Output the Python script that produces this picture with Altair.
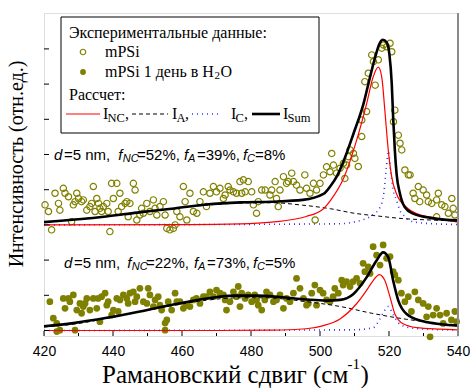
import altair as alt
import pandas as pd

# ---- measured spectra -------------------------------------------------------
# mPSi (open circles): Raman shift, intensity
TOP_X = [420.3, 421.3, 422.2, 423.2, 424.2, 424.6, 425.6, 426.1, 427.1, 428.0, 428.5, 429.0, 429.5, 430.0,
         430.9, 431.4, 432.4, 433.3, 433.8, 434.3, 434.8, 435.3, 435.8, 436.2, 436.7, 437.2, 438.2, 438.6,
         439.1, 439.6, 440.1, 441.1, 441.5, 442.0, 442.5, 443.5, 444.0, 444.4, 444.9, 445.9, 446.4, 446.9,
         447.8, 448.3, 448.8, 449.8, 450.7, 451.7, 452.2, 452.7, 453.6, 454.6, 455.1, 455.6, 456.5, 457.5,
         458.0, 458.5, 459.4, 460.4, 460.9, 461.4, 462.3, 463.3, 464.3, 465.2, 466.2, 467.1, 468.1, 469.1,
         470.0, 471.0, 472.0, 472.5, 473.4, 473.9, 474.9, 475.8, 476.8, 477.3, 477.8, 478.3, 479.2, 480.2,
         480.7, 481.6, 482.1, 483.1, 484.1, 485.5, 486.0, 487.0, 487.4, 487.9, 488.4, 489.4, 490.3, 490.8,
         491.8, 492.3, 493.2, 494.2, 495.6, 496.1, 497.1, 498.1, 498.6, 499.0, 500.0, 501.0, 501.9, 502.9,
         503.4, 503.9, 504.8, 505.8, 506.8, 507.2, 507.7, 508.2, 508.7, 509.7, 510.1, 511.1, 512.1, 512.1,
         513.5, 513.0, 514.0, 515.0, 515.5, 516.0, 516.9, 517.9, 518.4, 519.3, 520.3, 520.8, 521.7, 521.3,
         522.7, 523.2, 523.7, 524.6, 525.6, 526.1, 528.5, 529.9, 527.0, 527.5, 528.9, 530.9, 531.4, 532.4,
         533.8, 534.3, 535.3, 536.2, 537.2, 538.2, 538.6, 539.1, 533.8]
TOP_Y = [35.7, 33.8, 28.6, 39.0, 36.1, 34.2, 40.4, 39.0, 38.0, 30.9, 35.7, 36.6, 39.0, 37.5,
         36.6, 37.1, 34.2, 35.2, 36.1, 40.9, 33.8, 37.5, 36.1, 34.7, 33.8, 35.2, 36.1, 33.8,
         28.1, 41.8, 37.5, 41.8, 33.8, 39.0, 35.2, 36.1, 36.6, 32.3, 36.1, 41.8, 39.9, 31.4,
         32.8, 34.7, 33.3, 36.1, 33.8, 37.1, 34.7, 32.8, 35.2, 36.6, 32.8, 29.0, 28.6, 29.0,
         30.0, 33.8, 32.3, 40.9, 36.6, 31.4, 39.0, 33.8, 33.3, 36.6, 39.4, 35.2, 39.0, 40.9,
         39.4, 40.4, 37.5, 38.5, 40.9, 39.9, 39.4, 39.0, 42.3, 39.0, 42.8, 39.4, 42.3, 39.4,
         35.7, 33.3, 36.6, 39.9, 39.9, 38.5, 39.9, 42.3, 37.5, 35.2, 39.9, 43.7, 41.8, 42.3,
         44.7, 42.3, 41.3, 39.9, 44.2, 40.4, 39.0, 41.8, 31.4, 39.9, 41.8, 44.2, 46.5, 45.1,
         50.3, 47.0, 44.7, 46.1, 47.5, 43.2, 47.0, 49.4, 51.3, 50.3, 48.9, 46.6, 55.1, 59.8,
         62.2, 70.7, 73.1, 78.3, 76.4, 69.7, 76.9, 80.2, 81.1, 80.6, 81.6, 79.2, 62.6, 59.3,
         55.5, 53.2, 51.3, 45.6, 44.2, 44.2, 40.9, 39.9, 39.0, 37.5, 36.6, 38.5, 36.6, 36.1,
         37.1, 39.0, 35.7, 35.2, 33.3, 37.5, 34.7, 32.8, 32.3]

# mPSi after 1 day in H2O (filled circles)
BOT_X = [421.7, 422.7, 423.7, 424.6, 425.6, 426.1, 427.1, 427.5, 428.5, 429.0, 429.5, 430.4, 430.9, 431.4,
         431.9, 432.4, 433.3, 434.3, 435.3, 435.7, 436.7, 437.7, 438.2, 438.6, 439.6, 440.1, 441.1, 441.5,
         442.0, 443.0, 444.0, 444.4, 444.9, 445.9, 446.4, 446.9, 447.8, 448.8, 449.8, 450.2, 450.7, 451.7,
         452.2, 453.1, 453.6, 454.1, 455.1, 455.6, 456.0, 457.0, 458.0, 458.5, 459.4, 460.4, 461.3, 462.3,
         463.3, 464.2, 465.2, 466.2, 467.1, 468.1, 469.1, 470.0, 471.0, 472.0, 472.5, 472.9, 473.9, 474.9,
         475.8, 476.3, 476.8, 477.3, 478.3, 479.2, 480.2, 481.1, 481.6, 482.1, 483.1, 484.0, 484.5, 485.5,
         486.5, 487.4, 488.4, 489.4, 490.3, 491.3, 492.3, 493.2, 494.2, 495.2, 496.1, 496.6, 497.6, 498.5,
         499.0, 500.0, 500.9, 501.9, 502.9, 503.8, 504.3, 505.3, 506.3, 506.7, 507.7, 508.7, 509.6, 510.6,
         511.6, 512.5, 513.0, 514.0, 514.5, 515.4, 516.4, 517.4, 518.3, 519.3, 520.3, 521.2, 521.7, 522.7,
         523.6, 524.6, 525.6, 526.5, 527.5, 528.5, 529.9, 530.9, 531.4, 532.8, 533.8, 534.8, 535.7, 536.7,
         538.1, 539.1, 539.6, 423.7, 436.2, 455.1, 531.9]
BOT_Y = [8.2, 3.5, 2.0, 0.1, 9.1, 6.3, 9.1, 8.2, 10.1, 0.1, 5.8, 7.7, 4.9, 6.8,
         7.7, 9.1, 5.8, 9.1, 6.3, 9.1, 9.6, 10.6, 7.2, 8.2, 4.4, 5.8, 9.1, 5.4,
         8.7, 10.1, 9.1, 7.7, 10.6, 11.0, 8.2, 9.6, 12.0, 8.2, 7.7, 12.0, 10.1, 6.8,
         8.7, 9.6, 7.2, 5.8, 0.1, 3.0, 8.2, 5.8, 10.6, 8.2, 8.2, 6.3, 7.2, 6.8,
         8.7, 9.1, 7.7, 9.6, 9.6, 11.0, 9.6, 11.5, 10.6, 10.1, 8.7, 5.8, 8.2, 11.0,
         9.6, 12.5, 6.8, 10.6, 9.1, 10.1, 8.2, 10.1, 8.7, 7.2, 5.8, 8.7, 11.0, 10.1,
         8.2, 8.7, 10.1, 6.3, 9.1, 8.2, 10.6, 14.8, 12.0, 9.1, 7.2, 7.7, 10.6, 12.9,
         7.2, 11.5, 10.6, 8.7, 8.2, 9.6, 12.0, 10.6, 14.3, 12.9, 13.9, 12.5, 13.9, 14.8,
         13.4, 19.1, 16.7, 18.1, 16.2, 23.8, 21.4, 18.6, 24.3, 20.5, 21.0, 16.7, 15.8, 14.3,
         10.6, 8.2, 9.6, 5.4, 11.0, 8.7, 7.7, 3.9, 6.8, 4.4, 6.3, 4.4, 2.0, 4.9,
         3.0, 5.4, 2.5, -0.3, 2.5, 2.1, -1.8]

# ---- calculated components --------------------------------------------------
# upper spectrum (offset 30)
T_SUM_X = [420, 430, 438, 447, 457, 467, 477, 486, 495, 501, 503, 505, 507, 509.7, 512.6, 514.5, 516, 517.2,
           518.2, 519.3, 520.1, 520.8, 521.2, 521.7, 522.2, 523.2, 524.6, 527, 532, 536, 540]
T_SUM_Y = [30.8, 31.6, 32.4, 33.5, 34.6, 35.8, 36.4, 36.6, 37.1, 38.8, 41.0, 44.0, 48.5, 55.9, 64.4, 72.0, 77.7,
           81.4, 82.6, 81.9, 78.6, 70.1, 60.6, 51.1, 44.5, 38.8, 35.0, 33.2, 32.0, 31.5, 31.3]
T_NC_X = [420, 460, 477, 486, 496, 501, 503, 507, 510.6, 513.5, 515.4, 516.9, 517.9, 518.8, 519.8, 520.8,
          522.2, 525.1, 528, 532, 540]
T_NC_Y = [30.0, 30.1, 30.3, 30.8, 32.4, 34.6, 36.9, 43.6, 54.0, 64.4, 72.0, 74.8, 72.0, 62.5, 51.1, 43.6,
          38.8, 35.0, 33.2, 32.2, 30.8]
T_A_X = [420, 438, 457, 467, 477, 486, 495, 503, 510, 517, 524, 532, 540]
T_A_Y = [30.8, 32.4, 34.6, 35.6, 36.2, 36.3, 35.6, 34.6, 33.3, 32.5, 31.8, 31.4, 31.2]
T_C_X = [420, 505, 512.5, 515.5, 517.4, 518.5, 519.2, 519.8, 520.4, 521.2, 522.2, 523.2, 524.5, 526, 530, 540]
T_C_Y = [30.0, 30.3, 31.5, 33.0, 35.0, 39.0, 46.0, 51.0, 46.0, 40.0, 37.0, 34.0, 32.5, 31.2, 30.5, 30.1]

# lower spectrum
B_SUM_X = [420, 428.5, 438.2, 447.8, 457.5, 467.2, 474.9, 481.7, 488.4, 496.1, 501.9, 505.8, 509.7, 513.5,
           516.4, 518.3, 519.8, 521.2, 522.7, 525.1, 529.9, 535, 540]
B_SUM_Y = [1.2, 2.1, 3.6, 5.4, 7.4, 9.1, 9.9, 9.9, 9.5, 8.8, 8.5, 8.7, 10.4, 15.1,
           19.9, 22.2, 20.8, 14.2, 8.5, 4.7, 2.6, 1.8, 1.4]
B_NC_X = [420, 470, 486, 496, 501, 505.8, 510.6, 513.5, 515.4, 517.2, 518.8, 520.3, 521.7, 524.1, 528, 535, 540]
B_NC_Y = [0.0, 0.0, 0.1, 0.5, 1.4, 3.3, 7.6, 11.4, 14.2, 15.9, 14.2, 9.5, 4.7, 1.9, 0.8, 0.4, 0.2]
B_A_X = [420, 430, 438, 447, 457, 467, 477, 484, 490, 496, 506, 515, 525, 533, 540]
B_A_Y = [1.0, 2.0, 3.4, 5.2, 7.0, 8.6, 9.3, 9.3, 8.9, 8.2, 6.8, 4.9, 3.2, 2.2, 1.4]
B_C_X = [420, 510, 515.4, 517.2, 518.6, 519.8, 521.2, 522.7, 525.1, 530, 540]
B_C_Y = [0.0, 0.2, 0.8, 3.0, 5.5, 6.8, 4.5, 2.2, 1.0, 0.4, 0.1]

X_TICKS = [420, 440, 460, 480, 500, 520, 540]
X_MINOR = [430, 450, 470, 490, 510, 530]
Y_TICKS = [0, 10, 20, 30, 40, 50, 60, 70, 80]

# ---- styling ----------------------------------------------------------------
W, H = 414, 323
OLIVE = "#808000"
SERIF = "Liberation Serif"
SANS = "Liberation Sans"

xs = alt.Scale(domain=[420, 540], nice=False, zero=False)
ys = alt.Scale(domain=[-1.56, 90.2], nice=False, zero=False)
x_axis = alt.Axis(values=X_TICKS, ticks=False, domain=False, grid=False, labelFont=SANS, labelFontSize=14,
                  labelColor="black", labelPadding=8, labelFlush=False, title=None)
y_axis = alt.Axis(labels=False, ticks=False, domain=False, grid=False, title=None)

ONE = pd.DataFrame({"k": [0]})


def X(field="x"):
    return alt.X(f"{field}:Q", scale=xs, axis=x_axis)


def Y(field="y"):
    return alt.Y(f"{field}:Q", scale=ys, axis=y_axis)


def points(xv, yv, filled):
    df = pd.DataFrame({"x": xv, "y": yv})
    if filled:
        m = alt.Chart(df).mark_point(shape="circle", filled=True, size=46, color=OLIVE, opacity=1)
    else:
        m = alt.Chart(df).mark_point(shape="circle", filled=False, size=40, strokeWidth=1.2, color=OLIVE, opacity=1)
    return m.encode(x=X(), y=Y())


def curve(xv, yv, color, width, dash=None):
    df = pd.DataFrame({"x": xv, "y": yv})
    kw = dict(color=color, strokeWidth=width, interpolate="monotone")
    if dash:
        kw["strokeDash"] = dash
    return alt.Chart(df).mark_line(**kw).encode(x=X(), y=Y())


def label(text, x, y, size=15, font=SANS, style="normal", align="left", angle=0):
    return alt.Chart(ONE).mark_text(text=text, align=align, baseline="middle", font=font, fontSize=size,
                                    fontStyle=style, color="black", angle=angle).encode(
        x=alt.value(x), y=alt.value(y))


def seg(x1, x2, y, color, width, dash=None):
    kw = dict(color=color, strokeWidth=width)
    if dash:
        kw["strokeDash"] = dash
    return alt.Chart(ONE).mark_rule(**kw).encode(x=alt.value(x1), x2=alt.value(x2), y=alt.value(y))


RED, DASH, DOT = ("#ff0000", 1.2, None), ("#000000", 1.0, [4, 3]), ("#3333ff", 1.6, [1, 4])

layers = [
    points(TOP_X, TOP_Y, False),
    points(BOT_X, BOT_Y, True),
]
for cx, cy in [(T_A_X, T_A_Y), (B_A_X, B_A_Y)]:
    layers.append(curve(cx, cy, *DASH))
for cx, cy in [(T_C_X, T_C_Y), (B_C_X, B_C_Y)]:
    layers.append(curve(cx, cy, *DOT))
for cx, cy in [(T_NC_X, T_NC_Y), (B_NC_X, B_NC_Y)]:
    layers.append(curve(cx, cy, *RED))
for cx, cy in [(T_SUM_X, T_SUM_Y), (B_SUM_X, B_SUM_Y)]:
    layers.append(curve(cx, cy, "black", 2.6))

# inward ticks
layers.append(alt.Chart(pd.DataFrame({"x": X_TICKS})).mark_rule(color="black", strokeWidth=1).encode(
    x=X(), y=alt.value(H), y2=alt.value(H - 5)))
layers.append(alt.Chart(pd.DataFrame({"x": X_MINOR})).mark_rule(color="black", strokeWidth=1).encode(
    x=X(), y=alt.value(H), y2=alt.value(H - 3)))
layers.append(alt.Chart(pd.DataFrame({"y": Y_TICKS})).mark_rule(color="black", strokeWidth=1).encode(
    y=Y(), x=alt.value(0), x2=alt.value(5)))

# right frame edge
layers.append(alt.Chart(ONE).mark_rule(color="#8a8a8a", strokeWidth=2).encode(
    x=alt.value(W), y=alt.value(0), y2=alt.value(H)))

# legend box
SUB = 12.5
layers.append(alt.Chart(ONE).mark_rect(fill="white", stroke="black", strokeWidth=1).encode(
    x=alt.value(17), x2=alt.value(275), y=alt.value(4), y2=alt.value(120)))
layers += [
    label("Экспериментальные данные:", 25, 20, 16, SERIF),
    alt.Chart(ONE).mark_point(shape="circle", filled=False, size=30, strokeWidth=1.2, color=OLIVE, opacity=1).encode(
        x=alt.value(39), y=alt.value(39)),
    label("mPSi", 61, 39, 16, SERIF),
    alt.Chart(ONE).mark_point(shape="circle", filled=True, size=34, color=OLIVE, opacity=1).encode(
        x=alt.value(39), y=alt.value(59)),
    label("mPSi 1 день в H", 61, 59, 16, SERIF),
    label("2", 170.5, 63, 11, SERIF),
    label("O", 176.5, 59, 16, SERIF),
    label("Рассчет:", 25, 82, 16, SERIF),
    seg(22, 56, 101, *RED),
    label("I", 59, 101, 16, SERIF),
    label("NC", 63.5, 105, SUB, SERIF),
    label(",", 81, 101, 16, SERIF),
    seg(88, 124, 101, *DASH),
    label("I", 128, 101, 16, SERIF),
    label("A", 132.5, 105, SUB, SERIF),
    label(",", 141, 101, 16, SERIF),
    seg(148, 176, 101, *DOT),
    label("I", 187, 101, 16, SERIF),
    label("C", 191.5, 105, SUB, SERIF),
    label(",", 200, 101, 16, SERIF),
    seg(208, 236, 101, "black", 2.6),
    label("I", 239, 101, 16, SERIF),
    label("Sum", 243.5, 105, SUB, SERIF),
]

# fit parameters
def params(x0, y0, nc, a, c, pos):
    d, e, fnc, snc, vnc, fa, sa, va, fc, sc, vc = pos
    return [
        label("d", x0 + d, y0, 15, SANS, "italic"),
        label("=5 nm,", x0 + e, y0, 15, SANS),
        label("f", x0 + fnc, y0, 15, SANS, "italic"),
        label("NC", x0 + snc, y0 + 4, 11, SANS, "italic"),
        label(f"={nc}%,", x0 + vnc, y0, 15, SANS),
        label("f", x0 + fa, y0, 15, SANS, "italic"),
        label("A", x0 + sa, y0 + 4, 11, SANS, "italic"),
        label(f"={a}%,", x0 + va, y0, 15, SANS),
        label("f", x0 + fc, y0, 15, SANS, "italic"),
        label("C", x0 + sc, y0 + 4, 11, SANS, "italic"),
        label(f"={c}%", x0 + vc, y0, 15, SANS),
    ]


layers += params(10, 142, 52, 39, 8, (0, 10, 64.3, 68.7, 83, 130, 134, 143, 189, 193, 201))
layers += params(20, 250, 22, 73, 5, (0, 10, 63.3, 67.7, 82, 130, 134, 143, 189, 193, 201))

# axis titles
layers += [
    label("Интенсивность (отн.ед.)", -27, 151, 20, SERIF, align="center", angle=270),
    label("Рамановский сдвиг (см", 58, 362, 25, SERIF),
    label("-1", 303.5, 351, 15, SERIF),
    label(")", 316.5, 362, 25, SERIF),
]

chart = alt.layer(*layers).properties(
    width=W, height=H,
    padding={"left": 44, "top": 13, "right": 12, "bottom": 52},
    autosize=alt.AutoSizeParams(type="none"),
).configure_view(stroke="black", strokeWidth=1).configure(background="white")

chart.save("out.html", embed_options={"renderer": "svg", "actions": False})
